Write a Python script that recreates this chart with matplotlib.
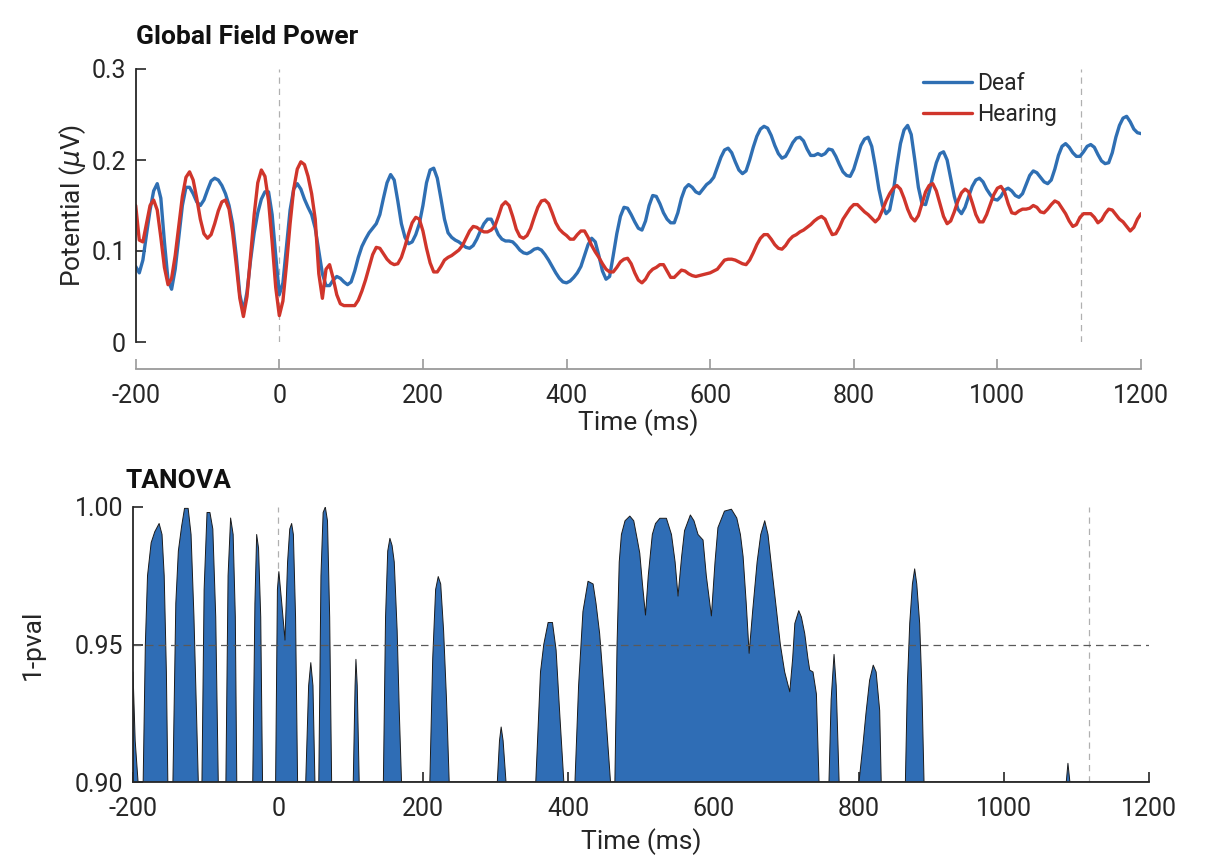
import matplotlib
matplotlib.use("Agg")
import matplotlib.pyplot as plt

plt.rcParams['font.family'] = ['Roboto', 'DejaVu Sans']

# ---------------- Global field power (µV), sampled every 5 ms ----------------
gfp_time = list(range(-200, 1201, 5))

deaf_gfp = [
    # -200 .. -105
    0.083, 0.076, 0.090, 0.118, 0.145, 0.166, 0.174, 0.158, 0.110, 0.068,
    0.058, 0.080, 0.115, 0.150, 0.170, 0.170, 0.163, 0.154, 0.150, 0.156,
    # -100 .. -5
    0.167, 0.177, 0.180, 0.178, 0.172, 0.163, 0.150, 0.130, 0.095, 0.052,
    0.034, 0.055, 0.090, 0.120, 0.142, 0.157, 0.165, 0.165, 0.140, 0.095,
    # 0 .. 95
    0.052, 0.065, 0.105, 0.145, 0.168, 0.174, 0.168, 0.157, 0.148, 0.140,
    0.125, 0.100, 0.075, 0.062, 0.062, 0.068, 0.072, 0.070, 0.066, 0.063,
    # 100 .. 195
    0.066, 0.078, 0.093, 0.105, 0.113, 0.120, 0.125, 0.130, 0.140, 0.158,
    0.175, 0.184, 0.178, 0.155, 0.130, 0.115, 0.108, 0.110, 0.118, 0.130,
    # 200 .. 295
    0.150, 0.175, 0.189, 0.191, 0.180, 0.158, 0.135, 0.120, 0.115, 0.112,
    0.110, 0.107, 0.104, 0.103, 0.106, 0.113, 0.122, 0.130, 0.135, 0.135,
    # 300 .. 395
    0.127, 0.118, 0.113, 0.111, 0.111, 0.110, 0.106, 0.101, 0.098, 0.097,
    0.099, 0.102, 0.103, 0.101, 0.096, 0.090, 0.083, 0.076, 0.070, 0.066,
    # 400 .. 495
    0.065, 0.067, 0.071, 0.076, 0.083, 0.095, 0.107, 0.114, 0.110, 0.095,
    0.078, 0.069, 0.072, 0.095, 0.119, 0.138, 0.148, 0.147, 0.140, 0.132,
    # 500 .. 595
    0.125, 0.123, 0.133, 0.150, 0.161, 0.160, 0.152, 0.142, 0.135, 0.131,
    0.131, 0.142, 0.158, 0.169, 0.173, 0.170, 0.165, 0.163, 0.168, 0.173,
    # 600 .. 695
    0.176, 0.181, 0.192, 0.203, 0.211, 0.213, 0.208, 0.198, 0.189, 0.185,
    0.188, 0.200, 0.214, 0.226, 0.234, 0.237, 0.235, 0.227, 0.216, 0.207,
    # 700 .. 795
    0.202, 0.204, 0.211, 0.219, 0.224, 0.225, 0.221, 0.212, 0.205, 0.205,
    0.207, 0.205, 0.207, 0.212, 0.211, 0.204, 0.195, 0.187, 0.183, 0.182,
    # 800 .. 895
    0.190, 0.203, 0.216, 0.223, 0.225, 0.215, 0.193, 0.168, 0.150, 0.141,
    0.145, 0.165, 0.193, 0.218, 0.233, 0.238, 0.228, 0.200, 0.170, 0.152,
    # 900 .. 995
    0.151, 0.165, 0.182, 0.197, 0.207, 0.209, 0.200, 0.180, 0.160, 0.146,
    0.141, 0.148, 0.160, 0.171, 0.178, 0.180, 0.176, 0.168, 0.162, 0.157,
    # 1000 .. 1095
    0.156, 0.160, 0.167, 0.169, 0.166, 0.161, 0.159, 0.163, 0.173, 0.183,
    0.188, 0.186, 0.181, 0.176, 0.174, 0.178, 0.190, 0.205, 0.215, 0.218,
    # 1100 .. 1195
    0.214, 0.208, 0.204, 0.204, 0.209, 0.215, 0.217, 0.214, 0.206, 0.199,
    0.196, 0.197, 0.208, 0.225, 0.238, 0.246, 0.248, 0.242, 0.234, 0.230,
    # 1200
    0.229,
]

hearing_gfp = [
    # -200 .. -105
    0.150, 0.112, 0.110, 0.130, 0.150, 0.156, 0.145, 0.115, 0.082, 0.063,
    0.070, 0.095, 0.128, 0.160, 0.181, 0.187, 0.178, 0.158, 0.135, 0.119,
    # -100 .. -5
    0.114, 0.118, 0.130, 0.144, 0.154, 0.156, 0.146, 0.120, 0.085, 0.048,
    0.028, 0.050, 0.095, 0.140, 0.175, 0.189, 0.182, 0.155, 0.110, 0.060,
    # 0 .. 95
    0.029, 0.045, 0.085, 0.130, 0.168, 0.190, 0.198, 0.195, 0.182, 0.163,
    0.135, 0.075, 0.048, 0.080, 0.085, 0.070, 0.052, 0.042, 0.040, 0.040,
    # 100 .. 195
    0.040, 0.040, 0.046, 0.056, 0.068, 0.082, 0.096, 0.104, 0.103, 0.097,
    0.091, 0.087, 0.085, 0.086, 0.093, 0.105, 0.119, 0.131, 0.137, 0.135,
    # 200 .. 295
    0.122, 0.103, 0.087, 0.077, 0.077, 0.083, 0.090, 0.093, 0.095, 0.098,
    0.101, 0.106, 0.114, 0.122, 0.127, 0.126, 0.123, 0.121, 0.121, 0.123,
    # 300 .. 395
    0.127, 0.138, 0.150, 0.154, 0.150, 0.138, 0.124, 0.116, 0.114, 0.117,
    0.125, 0.137, 0.148, 0.155, 0.156, 0.152, 0.142, 0.131, 0.124, 0.120,
    # 400 .. 495
    0.117, 0.113, 0.113, 0.118, 0.122, 0.122, 0.115, 0.106, 0.099, 0.093,
    0.086, 0.080, 0.077, 0.077, 0.082, 0.088, 0.091, 0.092, 0.086, 0.076,
    # 500 .. 595
    0.068, 0.065, 0.069, 0.076, 0.080, 0.082, 0.085, 0.085, 0.078, 0.071,
    0.071, 0.075, 0.079, 0.078, 0.075, 0.073, 0.072, 0.073, 0.074, 0.075,
    # 600 .. 695
    0.076, 0.078, 0.080, 0.085, 0.090, 0.091, 0.091, 0.090, 0.088, 0.086,
    0.085, 0.090, 0.098, 0.107, 0.114, 0.118, 0.118, 0.113, 0.107, 0.103,
    # 700 .. 795
    0.102, 0.106, 0.112, 0.116, 0.118, 0.121, 0.123, 0.126, 0.129, 0.133,
    0.136, 0.138, 0.135, 0.126, 0.118, 0.119, 0.126, 0.135, 0.141, 0.147,
    # 800 .. 895
    0.151, 0.151, 0.147, 0.143, 0.140, 0.136, 0.132, 0.136, 0.145, 0.155,
    0.163, 0.169, 0.172, 0.168, 0.158, 0.146, 0.137, 0.133, 0.139, 0.152,
    # 900 .. 995
    0.165, 0.172, 0.174, 0.166, 0.152, 0.138, 0.130, 0.133, 0.143, 0.155,
    0.164, 0.168, 0.165, 0.153, 0.140, 0.132, 0.132, 0.140, 0.151, 0.162,
    # 1000 .. 1095
    0.169, 0.171, 0.165, 0.152, 0.142, 0.141, 0.144, 0.146, 0.146, 0.147,
    0.150, 0.148, 0.143, 0.142, 0.146, 0.151, 0.155, 0.153, 0.147, 0.141,
    # 1100 .. 1195
    0.133, 0.127, 0.129, 0.137, 0.141, 0.141, 0.141, 0.137, 0.131, 0.134,
    0.141, 0.146, 0.145, 0.140, 0.135, 0.132, 0.127, 0.122, 0.126, 0.135,
    # 1200
    0.141,
]

# ---------------- TANOVA: 1 - p value over time ----------------
tanova_time = [
    -200, -197, -193,
    -186, -183, -180, -175, -170, -164, -160, -157, -154, -152,
    -145, -141, -137.5, -133, -129, -124, -120, -116, -113, -110,
    -105, -102, -98, -94, -90, -86, -82.5,
    -72, -69, -65.5, -62, -59, -57,
    -35, -32, -29.6, -27, -24, -21.5,
    -3.5, -1, 1, 5, 9.4, 13, 16, 18.6, 21, 24, 26.8,
    38, 42, 45, 48, 50.7,
    56, 59, 62, 65, 68, 71, 73.7,
    103.5, 106, 107.2, 109, 111.7,
    145, 148, 151, 154, 157, 160, 164, 167, 170,
    209, 213, 217, 220.6, 224, 228, 232, 235.7,
    302, 305, 307.3, 310, 314,
    355, 361.5, 366, 372, 378, 383, 388, 393.7,
    409, 414, 420, 427, 434, 438, 443, 450, 458,
    464, 467, 470, 473, 478, 484.6, 490, 495, 498.3, 502, 506.2, 510, 515.6,
    520, 526, 535, 542, 547, 551, 556, 560, 568, 573, 578.6, 585.5, 590,
    597, 602, 606, 615, 624.6, 632, 637, 640.7, 645, 649, 654, 660, 665,
    670.5, 675, 679.6, 686.5, 692, 698, 705, 709, 712, 717.4, 721, 725.6,
    730, 732.5, 737, 741.7, 745.3,
    759, 762, 766, 769, 773,
    800.4, 806, 810, 815, 820, 824, 828.9, 831,
    864.3, 867, 870.3, 874, 877.1, 880, 884, 887, 890,
    1086, 1088.3, 1091,
    1200,
]

tanova_p = [
    0.940, 0.915, 0.900,
    0.900, 0.950, 0.975, 0.987, 0.991, 0.994, 0.990, 0.975, 0.940, 0.900,
    0.900, 0.965, 0.984, 0.993, 0.9995, 0.9995, 0.990, 0.960, 0.930, 0.900,
    0.900, 0.970, 0.998, 0.998, 0.992, 0.960, 0.900,
    0.900, 0.975, 0.996, 0.990, 0.960, 0.900,
    0.900, 0.965, 0.990, 0.985, 0.960, 0.900,
    0.900, 0.970, 0.9765, 0.965, 0.9516, 0.980, 0.992, 0.994, 0.990, 0.960, 0.900,
    0.900, 0.935, 0.9434, 0.935, 0.900,
    0.900, 0.975, 0.998, 1.000, 0.995, 0.960, 0.900,
    0.900, 0.935, 0.9446, 0.935, 0.900,
    0.900, 0.960, 0.984, 0.9886, 0.986, 0.980, 0.955, 0.925, 0.900,
    0.900, 0.945, 0.970, 0.9747, 0.972, 0.955, 0.930, 0.900,
    0.900, 0.915, 0.920, 0.915, 0.900,
    0.900, 0.940, 0.950, 0.958, 0.958, 0.948, 0.925, 0.900,
    0.900, 0.935, 0.962, 0.973, 0.972, 0.965, 0.954, 0.930, 0.900,
    0.900, 0.950, 0.980, 0.990, 0.995, 0.9967, 0.995, 0.988, 0.9832, 0.972, 0.9607, 0.975, 0.990,
    0.994, 0.9959, 0.9959, 0.990, 0.980, 0.9676, 0.982, 0.9914, 0.9971, 0.995, 0.990, 0.988, 0.975,
    0.9604, 0.980, 0.9925, 0.9985, 0.9992, 0.996, 0.990, 0.982, 0.965, 0.9468, 0.9626, 0.980, 0.990,
    0.995, 0.990, 0.979, 0.963, 0.950, 0.940, 0.9328, 0.945, 0.9577, 0.9623, 0.960, 0.954,
    0.945, 0.9407, 0.940, 0.932, 0.900,
    0.900, 0.930, 0.9464, 0.935, 0.900,
    0.900, 0.914, 0.925, 0.937, 0.9425, 0.940, 0.926, 0.900,
    0.900, 0.935, 0.9577, 0.972, 0.9775, 0.972, 0.9577, 0.935, 0.900,
    0.900, 0.9068, 0.900,
    0.900,
]

x_ticks = [-200, 0, 200, 400, 600, 800, 1000, 1200]
gfp_yticks = [0, 0.1, 0.2, 0.3]
gfp_yticklabels = ["0", "0.1", "0.2", "0.3"]
tanova_yticks = [0.90, 0.95, 1.00]
tanova_yticklabels = ["0.90", "0.95", "1.00"]
marker_times = [0, 1117]
significance = 0.95

DEAF_C = "#2f6fb3"
HEAR_C = "#d0352b"
INK = "#262626"
TICK_FS = 18
LABEL_FS = 19
TITLE_FS = 19

W, H = 1206, 865
fig = plt.figure(figsize=(W / 100, H / 100), dpi=100)


def frac_box(left, top, right, bottom):
    """Axes rectangle given in pixel edges (origin top-left)."""
    return [left / W, 1 - bottom / H, (right - left) / W, (bottom - top) / H]


# ---------------- top panel: GFP ----------------
ax1 = fig.add_axes(frac_box(135.7, 69, 1141, 342))
ax1.plot(gfp_time, deaf_gfp, color=DEAF_C, lw=2.4, label="Deaf",
         solid_joinstyle="round", solid_capstyle="round")
ax1.plot(gfp_time, hearing_gfp, color=HEAR_C, lw=2.4, label="Hearing",
         solid_joinstyle="round", solid_capstyle="round")
for t in marker_times:
    ax1.axvline(t, color="#b0b0b0", lw=0.9, ls=(0, (5, 4)), zorder=0)
ax1.set_xlim(-200, 1200)
ax1.set_ylim(0, 0.3)
ax1.set_xticks(x_ticks)
ax1.set_xticklabels([str(v) for v in x_ticks])
ax1.set_yticks(gfp_yticks)
ax1.set_yticklabels(gfp_yticklabels)
for s in ("top", "right"):
    ax1.spines[s].set_visible(False)
ax1.spines["bottom"].set_position(("outward", 27 * 72 / 100))
ax1.spines["bottom"].set_color("#9a9a9a")
ax1.spines["bottom"].set_linewidth(1.3)
ax1.spines["left"].set_color(INK)
ax1.spines["left"].set_linewidth(1.3)
ax1.tick_params(axis="x", direction="in", length=7, width=1.2, color="#9a9a9a",
                labelsize=TICK_FS, labelcolor=INK, pad=10.5)
ax1.tick_params(axis="y", direction="in", length=7, width=1.2, color=INK,
                labelsize=TICK_FS, labelcolor=INK, pad=7)
ax1.set_xlabel("Time (ms)", fontsize=LABEL_FS, color=INK)
ax1.xaxis.set_label_coords(0.5, -0.246)
ax1.set_ylabel(r"Potential ($\mu$V)", fontsize=LABEL_FS, color=INK)
ax1.yaxis.set_label_coords(-0.047, 0.5)
leg = ax1.legend(loc="upper left", bbox_to_anchor=(0.783, 0.99), frameon=False,
                 fontsize=16.5, handlelength=2.14, handletextpad=0.22,
                 labelspacing=0.38, borderpad=0, borderaxespad=0)
for txt in leg.get_texts():
    txt.set_color(INK)
fig.text(136 / W, 1 - 37 / H, "Global Field Power", fontsize=TITLE_FS,
         fontweight="bold", color="#111111", ha="left", va="center")

# ---------------- bottom panel: TANOVA ----------------
ax2 = fig.add_axes(frac_box(133, 507, 1149, 782))
ax2.fill_between(tanova_time, 0.0, tanova_p, facecolor="#2f6db5",
                 edgecolor="#1b1b1b", linewidth=0.7, zorder=2)
ax2.axhline(significance, color="#5a5a5a", lw=0.9, ls=(0, (6, 4)), zorder=3)
for t in marker_times:
    ax2.axvline(t, color="#b0b0b0", lw=0.9, ls=(0, (5, 4)), zorder=1)
ax2.set_xlim(-200, 1200)
ax2.set_ylim(0.90, 1.00)
ax2.set_xticks(x_ticks)
ax2.set_xticklabels([str(v) for v in x_ticks])
ax2.set_yticks(tanova_yticks)
ax2.set_yticklabels(tanova_yticklabels)
for s in ("top", "right"):
    ax2.spines[s].set_visible(False)
for s in ("left", "bottom"):
    ax2.spines[s].set_color(INK)
    ax2.spines[s].set_linewidth(1.3)
    ax2.spines[s].set_zorder(5)
ax2.tick_params(axis="both", direction="in", length=7, width=1.2, color=INK,
                labelsize=TICK_FS, labelcolor=INK)
ax2.tick_params(axis="x", pad=10.5)
ax2.tick_params(axis="y", pad=7)
ax2.set_xlabel("Time (ms)", fontsize=LABEL_FS, color=INK)
ax2.xaxis.set_label_coords(0.5, -0.168)
ax2.set_ylabel("1-pval", fontsize=LABEL_FS, color=INK)
ax2.yaxis.set_label_coords(-0.087, 0.5)
fig.text(125 / W, 1 - 481 / H, "TANOVA", fontsize=TITLE_FS, fontweight="bold",
         color="#111111", ha="left", va="center")

fig.savefig("out.png", dpi=100, facecolor="white")
